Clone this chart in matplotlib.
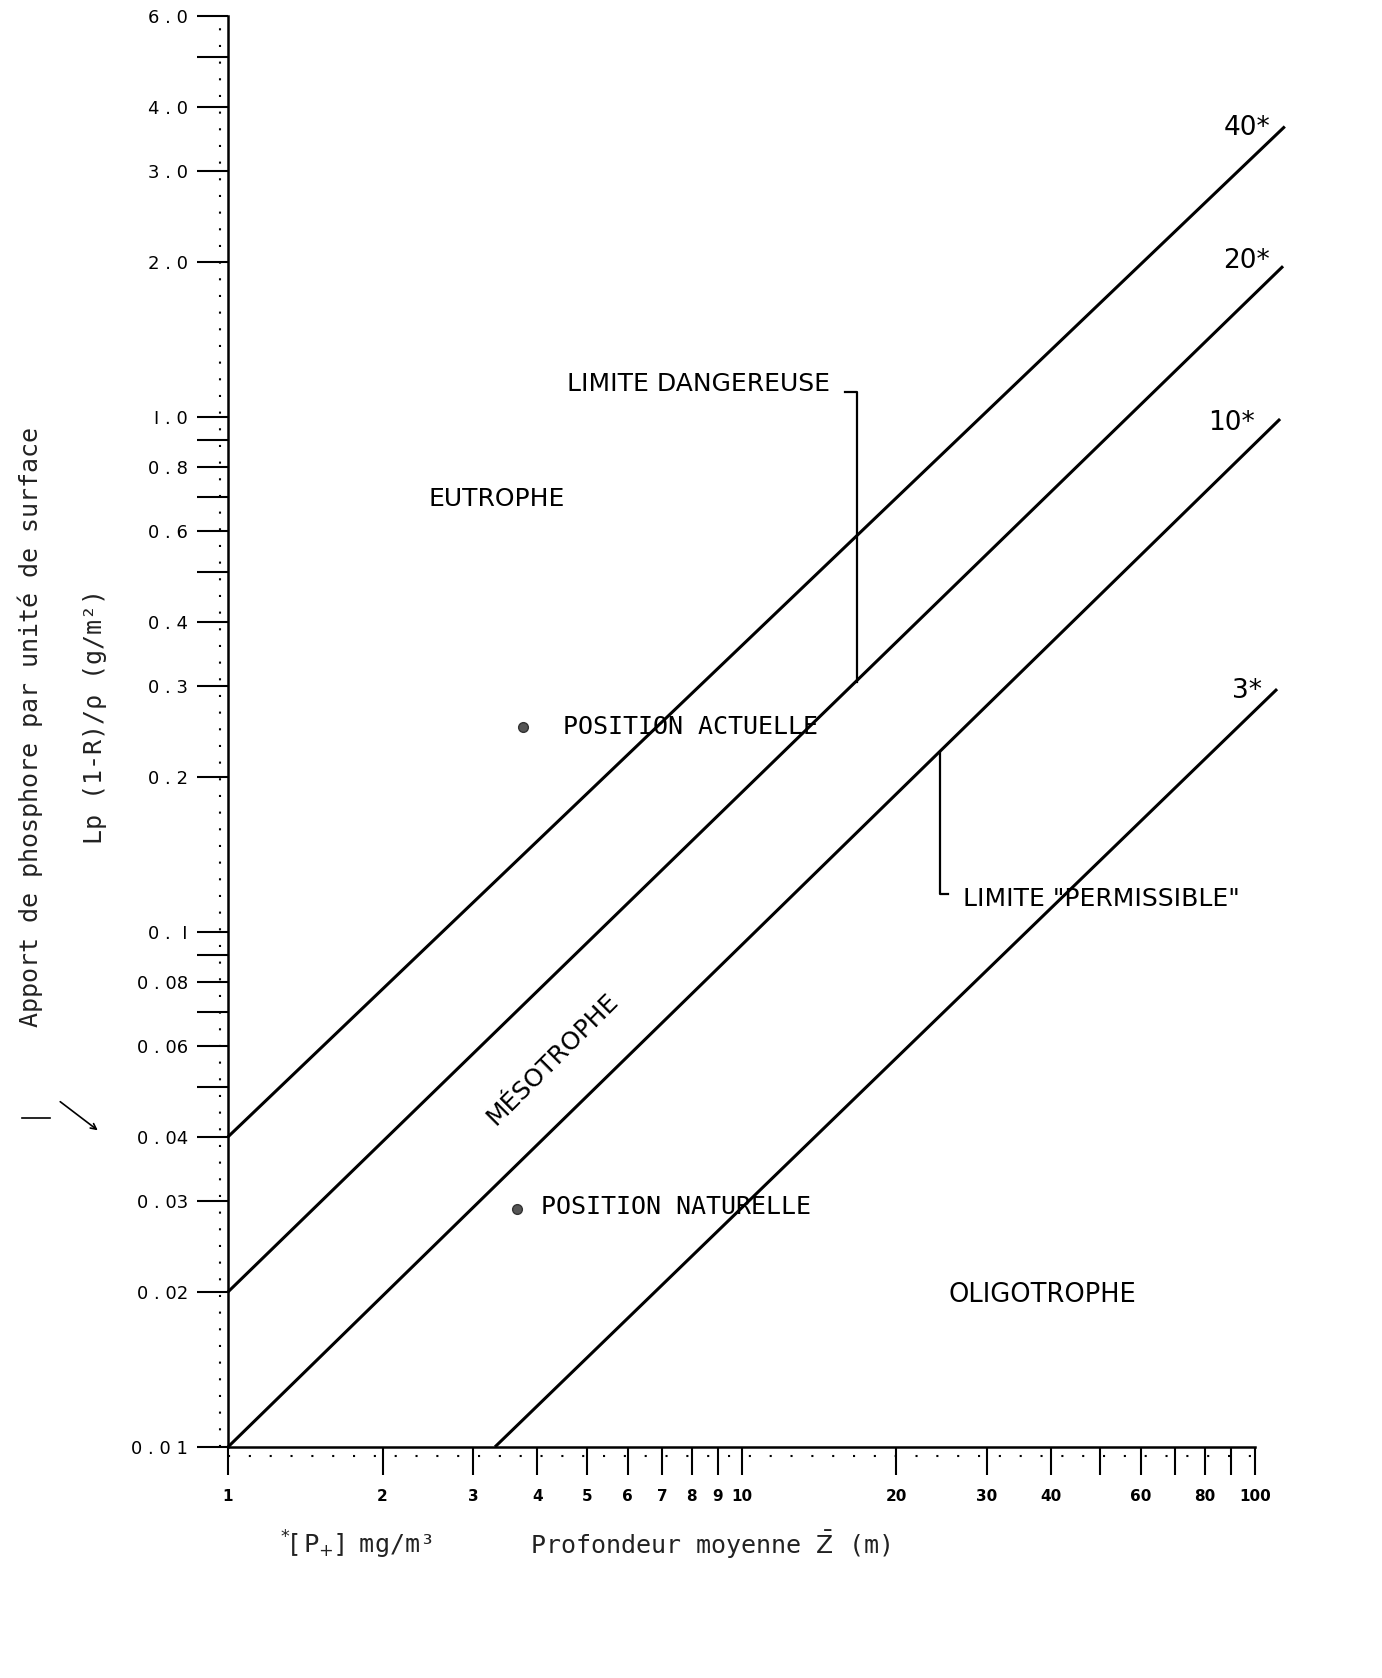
import matplotlib
matplotlib.use("Agg")
import matplotlib.pyplot as plt

plt.rcParams["mathtext.fontset"] = "dejavusans"

# critical-load lines: label, start (x, y), end (x, y)
line_names = ["40*", "20*", "10*", "3*"]
line_x0 = [1.0, 1.0, 1.0, 3.31]
line_y0 = [0.04, 0.02, 0.01, 0.01]
line_x1 = [114.3, 113.4, 111.9, 110.4]
line_y1 = [3.66, 1.96, 0.99, 0.296]
label_x = [107.0, 107.0, 100.0, 103.0]
label_y = [3.63, 2.01, 0.973, 0.294]

# lake positions
pos_names = ["POSITION ACTUELLE", "POSITION NATURELLE"]
pos_x = [3.75, 3.66]
pos_y = [0.25, 0.029]

# axis ticks
y_ticks = [0.01, 0.02, 0.03, 0.04, 0.05, 0.06, 0.07, 0.08, 0.09, 0.1,
           0.2, 0.3, 0.4, 0.5, 0.6, 0.7, 0.8, 0.9, 1.0, 2.0, 3.0, 4.0, 5.0, 6.0]
y_labels = ["0 . 0 1", "0 . 02", "0 . 03", "0 . 04", "", "0 . 06", "", "0 . 08", "", "0 .  I",
            "0 . 2", "0 . 3", "0 . 4", "", "0 . 6", "", "0 . 8", "", "I . 0", "2 . 0", "3 . 0",
            "4 . 0", "", "6 . 0"]
x_ticks = [1, 2, 3, 4, 5, 6, 7, 8, 9, 10, 20, 30, 40, 50, 60, 70, 80, 90, 100]
x_labels = ["1", "2", "3", "4", "5", "6", "7", "8", "9", "10", "20", "30", "40", "",
            "60", "", "80", "", "100"]

fig = plt.figure(figsize=(13.82, 16.78), dpi=100)
ax = fig.add_axes([0.165, 0.1377, 0.7431, 0.8528])
ax.set_xscale("log")
ax.set_yscale("log")
ax.set_xlim(1, 100)
ax.set_ylim(0.01, 6.0)

for i in range(len(line_names)):
    ax.plot([line_x0[i], line_x1[i]], [line_y0[i], line_y1[i]],
            color="black", linewidth=2.2, clip_on=False, solid_capstyle="butt")
    ax.text(label_x[i], label_y[i], line_names[i], ha="right", va="center",
            fontsize=19, family="DejaVu Sans")

ax.plot(pos_x, pos_y, "o", color="#555555", markersize=7, markeredgecolor="#333333")
ax.text(4.49, 0.25, pos_names[0], ha="left", va="center", fontsize=18,
        family="DejaVu Sans Mono")
ax.text(4.07, 0.0292, pos_names[1], ha="left", va="center", fontsize=18,
        family="DejaVu Sans Mono")

# zone names
ax.text(3.34, 0.693, "EUTROPHE", ha="center", va="center", fontsize=18)
ax.text(38.6, 0.0197, "OLIGOTROPHE", ha="center", va="center", fontsize=18.5)
ax.text(4.29, 0.0567, "MÉSOTROPHE", ha="center", va="center", fontsize=18,
        rotation=45, rotation_mode="anchor")

# leaders
ax.text(14.9, 1.16, "LIMITE DANGEREUSE", ha="right", va="center", fontsize=18)
ax.plot([15.9, 16.8, 16.8], [1.118, 1.118, 0.306], color="black", linewidth=1.6)
ax.text(27.0, 0.116, "LIMITE \"PERMISSIBLE\"", ha="left", va="center", fontsize=18)
ax.plot([24.4, 24.4, 25.2], [0.222, 0.1186, 0.1186], color="black", linewidth=1.6)

# axes styling
ax.spines["top"].set_visible(False)
ax.spines["right"].set_visible(False)
ax.spines["left"].set_linewidth(1.8)
ax.spines["bottom"].set_linewidth(1.8)
ax.set_yticks(y_ticks, y_labels)
ax.set_xticks(x_ticks, x_labels)
ax.minorticks_off()
ax.tick_params(axis="y", direction="out", length=22, width=1.5, pad=7, labelsize=13)
ax.tick_params(axis="x", direction="out", length=20, width=1.5, pad=10, labelsize=11)
for lab in ax.get_xticklabels():
    lab.set_fontweight("bold")

# dotted graph-paper lines along the axes
ax.plot([-0.008, -0.008], [0, 1], transform=ax.transAxes, color="black",
        linewidth=1.5, linestyle=(0, (1, 7)), clip_on=False)
ax.plot([0, 1], [-0.006, -0.006], transform=ax.transAxes, color="black",
        linewidth=1.5, linestyle=(0, (1, 9)), clip_on=False)

# axis titles
fig.text(30 / 1382, 1 - 727 / 1678, "Apport de phosphore par unité de surface",
         rotation=90, ha="center", va="center", fontsize=18, family="DejaVu Sans Mono",
         color="#222222")
fig.text(95 / 1382, 1 - 717 / 1678, "Lp (1-R)/ρ (g/m²)",
         rotation=90, ha="center", va="center", fontsize=18, family="DejaVu Sans Mono",
         color="#222222")
fig.text(280 / 1382, 1 - 1545 / 1678, r"$^{*}\left[\,\mathrm{P}_{+}\right]$ mg/m³",
         ha="left", va="center", fontsize=18, family="DejaVu Sans Mono", color="#222222")
fig.text(530 / 1382, 1 - 1545 / 1678, r"Profondeur moyenne $\bar{\mathrm{Z}}$ (m)",
         ha="left", va="center", fontsize=18, family="DejaVu Sans Mono", color="#222222")

# handwritten arrow next to the 0.04 level
fig.add_artist(plt.Line2D([22 / 1382, 50 / 1382], [1 - 1118 / 1678, 1 - 1118 / 1678],
                          color="black", linewidth=1.2))
ax.annotate("", xy=(100 / 1382, 1 - 1132 / 1678), xytext=(58 / 1382, 1 - 1100 / 1678),
            xycoords="figure fraction", textcoords="figure fraction",
            arrowprops=dict(arrowstyle="->", color="black", linewidth=1.2))

fig.savefig("out.png", dpi=100)
